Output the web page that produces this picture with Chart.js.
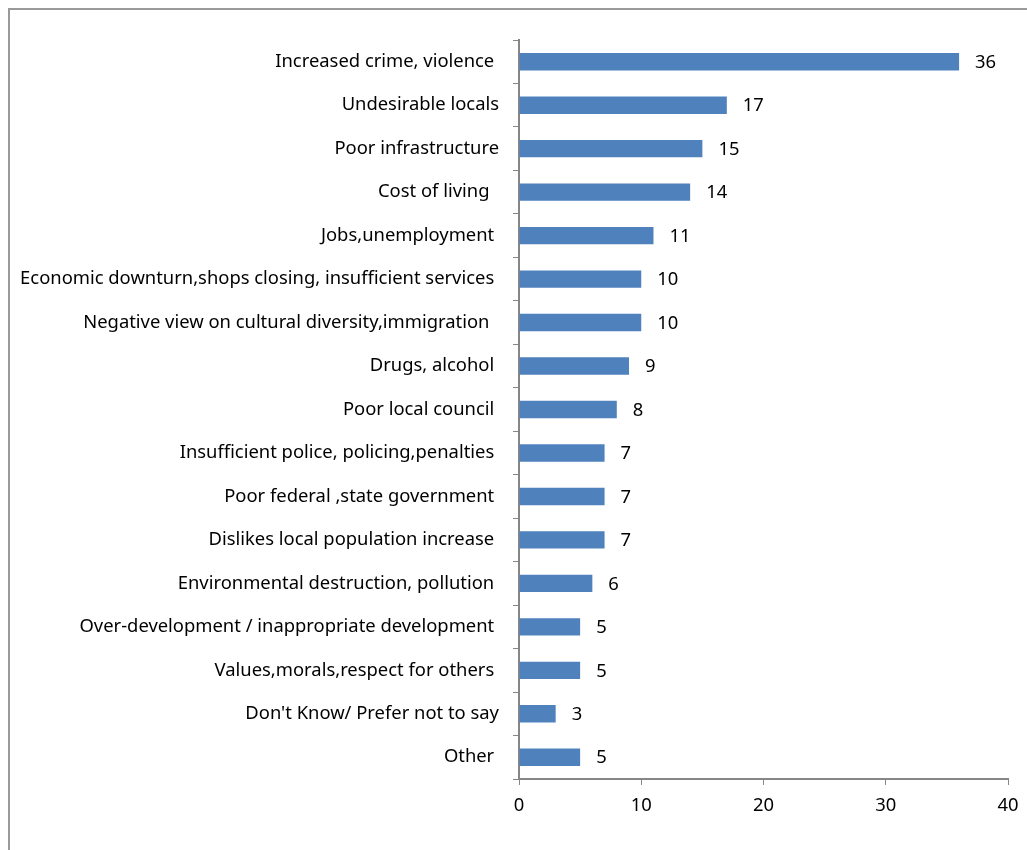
<!DOCTYPE html>
<html>
<head>
<meta charset="utf-8">
<script src="https://cdn.jsdelivr.net/npm/chart.js@4/dist/chart.umd.min.js"></script>
<style>
    html, body { margin: 0; padding: 0; background: #fff; }
    .wrap { position: relative; width: 1027px; height: 850px; overflow: hidden; }
    .frame {
        position: absolute; left: 8px; top: 8px; width: 1040px; height: 870px;
        border-top: 2px solid #9a9a9a; border-left: 2px solid #9a9a9a;
    }
    canvas { position: absolute; left: 0; top: 0; }
</style>
</head>
<body>
<div class="wrap">
    <div class="frame"></div>
    <canvas id="issuesChart" width="1027" height="850"></canvas>
</div>
<script>
// survey responses, top to bottom
const categories = [
    'Increased crime, violence ',
    'Undesirable locals',
    'Poor infrastructure',
    'Cost of living  ',
    'Jobs,unemployment ',
    'Economic downturn,shops closing, insufficient services ',
    'Negative view on cultural diversity,immigration  ',
    'Drugs, alcohol ',
    'Poor local council ',
    'Insufficient police, policing,penalties ',
    'Poor federal ,state government ',
    'Dislikes local population increase ',
    'Environmental destruction, pollution ',
    'Over-development / inappropriate development ',
    'Values,morals,respect for others ',
    "Don't Know/ Prefer not to say",
    'Other '
];
const counts = [36, 17, 15, 14, 11, 10, 10, 9, 8, 7, 7, 7, 6, 5, 5, 3, 5];
const xTicks = [0, 10, 20, 30, 40];

const FONT = "'Noto Sans', 'Open Sans', sans-serif";
const FONT_SIZE = 18.4;
const axisGray = '#868686';

// value text to the right of each bar
const barValues = {
    id: 'barValues',
    afterDatasetsDraw(chart) {
        const ctx = chart.ctx;
        const meta = chart.getDatasetMeta(0);
        ctx.save();
        ctx.font = FONT_SIZE + 'px ' + FONT;
        ctx.fillStyle = '#000';
        ctx.textAlign = 'left';
        ctx.textBaseline = 'middle';
        meta.data.forEach((bar, i) => {
            ctx.fillText(String(counts[i]), bar.x + 16, bar.y + 1);
        });
        ctx.restore();
    }
};

const ctx = document.getElementById('issuesChart').getContext('2d');
new Chart(ctx, {
    type: 'bar',
    data: {
        labels: categories,
        datasets: [{
            data: counts,
            backgroundColor: '#4f81bd',
            borderWidth: 0,
            barPercentage: 0.4,
            categoryPercentage: 1
        }]
    },
    options: {
        indexAxis: 'y',
        responsive: false,
        animation: false,
        layout: { padding: { top: 40, right: 19, left: 0, bottom: 0 } },
        plugins: {
            legend: { display: false },
            tooltip: { enabled: false }
        },
        scales: {
            x: {
                min: 0,
                max: 40,
                afterBuildTicks: (scale) => { scale.ticks = xTicks.map(v => ({ value: v })); },
                afterFit: (scale) => {
                    scale.height = 71;
                    scale.paddingLeft = 0;
                    scale.paddingRight = 0;
                },
                grid: { drawOnChartArea: false, drawTicks: true, tickLength: 6, color: axisGray },
                border: { color: axisGray, width: 2 },
                ticks: { color: '#000', font: { size: FONT_SIZE, family: FONT }, padding: 10 }
            },
            y: {
                afterFit: (scale) => { scale.width = 519; },
                grid: { offset: true, drawOnChartArea: false, drawTicks: true, tickLength: 6, color: axisGray },
                border: { color: axisGray, width: 2 },
                ticks: { color: '#000', font: { size: FONT_SIZE, family: FONT }, padding: 14 }
            }
        }
    },
    plugins: [barValues]
});
</script>
</body>
</html>
